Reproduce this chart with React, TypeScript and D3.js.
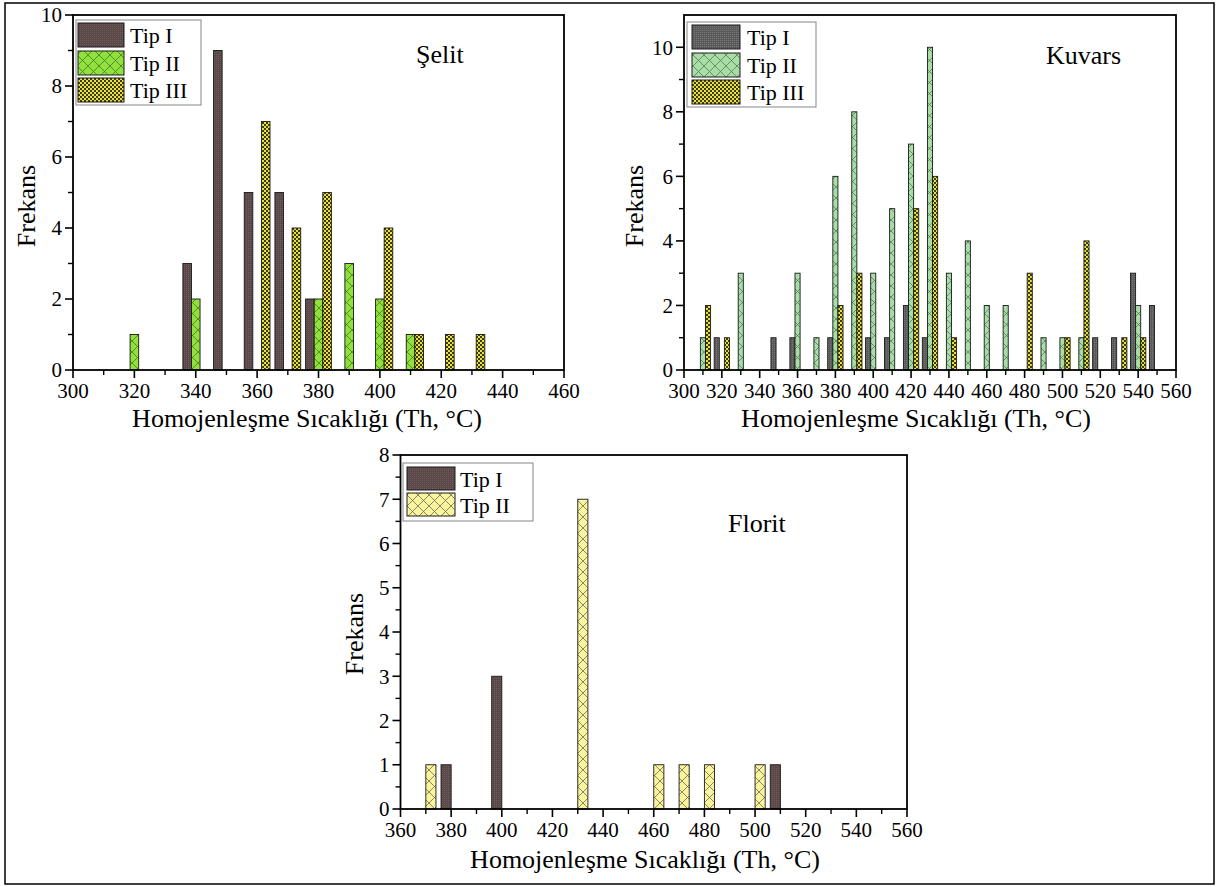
import React from "react";
import * as d3 from "d3";

const FONT = "'Liberation Serif', 'Times New Roman', serif";

// Şelit - frekans per 10 °C sınıfı
const selitTipI = [
  { t: 340, n: 3 }, { t: 350, n: 9 }, { t: 360, n: 5 }, { t: 370, n: 5 }, { t: 380, n: 2 },
];
const selitTipII = [
  { t: 320, n: 1 }, { t: 340, n: 2 }, { t: 380, n: 2 }, { t: 390, n: 3 }, { t: 400, n: 2 }, { t: 410, n: 1 },
];
const selitTipIII = [
  { t: 360, n: 7 }, { t: 370, n: 4 }, { t: 380, n: 5 }, { t: 400, n: 4 }, { t: 410, n: 1 }, { t: 420, n: 1 }, { t: 430, n: 1 },
];

// Kuvars
const kuvarsTipI = [
  { t: 320, n: 1 }, { t: 350, n: 1 }, { t: 360, n: 1 }, { t: 380, n: 1 }, { t: 400, n: 1 }, { t: 410, n: 1 },
  { t: 420, n: 2 }, { t: 430, n: 1 }, { t: 520, n: 1 }, { t: 530, n: 1 }, { t: 540, n: 3 }, { t: 550, n: 2 },
];
const kuvarsTipII = [
  { t: 310, n: 1 }, { t: 330, n: 3 }, { t: 360, n: 3 }, { t: 370, n: 1 }, { t: 380, n: 6 }, { t: 390, n: 8 },
  { t: 400, n: 3 }, { t: 410, n: 5 }, { t: 420, n: 7 }, { t: 430, n: 10 }, { t: 440, n: 3 }, { t: 450, n: 4 },
  { t: 460, n: 2 }, { t: 470, n: 2 }, { t: 490, n: 1 }, { t: 500, n: 1 }, { t: 510, n: 1 }, { t: 540, n: 2 },
];
const kuvarsTipIII = [
  { t: 310, n: 2 }, { t: 320, n: 1 }, { t: 380, n: 2 }, { t: 390, n: 3 }, { t: 420, n: 5 }, { t: 430, n: 6 },
  { t: 440, n: 1 }, { t: 480, n: 3 }, { t: 500, n: 1 }, { t: 510, n: 4 }, { t: 530, n: 1 }, { t: 540, n: 1 },
];

// Florit
const floritTipI = [{ t: 380, n: 1 }, { t: 400, n: 3 }, { t: 510, n: 1 }];
const floritTipII = [
  { t: 370, n: 1 }, { t: 430, n: 7 }, { t: 460, n: 1 }, { t: 470, n: 1 }, { t: 480, n: 1 }, { t: 500, n: 1 },
];

// eksen etiketleri
const selitXTicks = [300, 320, 340, 360, 380, 400, 420, 440, 460];
const kuvarsXTicks = [300, 320, 340, 360, 380, 400, 420, 440, 460, 480, 500, 520, 540, 560];
const floritXTicks = [360, 380, 400, 420, 440, 460, 480, 500, 520, 540, 560];
const selitYTicks = [0, 2, 4, 6, 8, 10];
const kuvarsYTicks = [0, 2, 4, 6, 8, 10];
const floritYTicks = [0, 1, 2, 3, 4, 5, 6, 7, 8];

const seriesNames = ["Tip I", "Tip II", "Tip III"];
const xTitle = "Homojenleşme Sıcaklığı (Th, °C)";
const yTitle = "Frekans";

type Bin = { t: number; n: number };
type Fill = { kind: "dots" | "cross" | "checker"; base: string; ink: string };
type Series = { name: string; data: Bin[]; fill: Fill };

const brown: Fill = { kind: "dots", base: "#5a4747", ink: "#705e5e" };
const grey: Fill = { kind: "dots", base: "#5a5a5a", ink: "#787878" };
const olive: Fill = { kind: "checker", base: "#e9e23c", ink: "#3e3b1c" };

function PatternDef({ id, fill }: { id: string; fill: Fill }) {
  if (fill.kind === "cross") {
    return (
      <pattern id={id} width={11} height={11} patternUnits="userSpaceOnUse">
        <rect width={11} height={11} fill={fill.base} />
        <path d="M0,0L11,11M11,0L0,11" stroke={fill.ink} strokeWidth={0.8} />
      </pattern>
    );
  }
  if (fill.kind === "checker") {
    return (
      <pattern id={id} width={4} height={4} patternUnits="userSpaceOnUse">
        <rect width={4} height={4} fill={fill.base} />
        <rect width={2} height={2} fill={fill.ink} />
        <rect x={2} y={2} width={2} height={2} fill={fill.ink} />
      </pattern>
    );
  }
  return (
    <pattern id={id} width={2} height={2} patternUnits="userSpaceOnUse">
      <rect width={2} height={2} fill={fill.base} />
      <rect width={1} height={1} fill={fill.ink} />
    </pattern>
  );
}

type PanelProps = {
  id: string;
  left: number; right: number; top: number; bottom: number;
  xDomain: [number, number]; yMax: number;
  xTicks: number[]; xMinor: number[]; yTicks: number[]; yMinor: number[];
  series: Series[]; barW: number;
  title: string; titleX: number; titleY: number;
  legend: { x0: number; y0: number; x1: number; y1: number; sx: number; sw: number; sh: number; rows: number[]; tx: number };
  yTitleX: number; yTitleY: number; xTitleX: number; xTitleY: number;
};

function Panel(p: PanelProps) {
  const x = d3.scaleLinear().domain(p.xDomain).range([p.left, p.right]);
  const y = d3.scaleLinear().domain([0, p.yMax]).range([p.bottom, p.top]);
  const k = p.series.length;
  const lg = p.legend;

  return (
    <g>
      <defs>
        {p.series.map((s, i) => (
          <PatternDef key={i} id={`${p.id}-${i}`} fill={s.fill} />
        ))}
      </defs>

      {/* staafjes, gegroepeerd rond de klassewaarde */}
      {p.series.map((s, i) => {
        const off = (i - (k - 1) / 2) * p.barW;
        return s.data.map((d) => {
          const x0 = x(d.t + off - p.barW / 2);
          const x1 = x(d.t + off + p.barW / 2);
          return (
            <rect key={`${i}-${d.t}`} x={x0} y={y(d.n)} width={x1 - x0} height={y(0) - y(d.n)}
              fill={`url(#${p.id}-${i})`} stroke="#1a1a1a" strokeWidth={0.9} />
          );
        });
      })}

      {/* kader */}
      <rect x={p.left} y={p.top} width={p.right - p.left} height={p.bottom - p.top}
        fill="none" stroke="#000" strokeWidth={1.8} />

      {/* x-as */}
      {p.xTicks.map((v) => (
        <g key={`xt${v}`}>
          <line x1={x(v)} x2={x(v)} y1={p.bottom} y2={p.bottom + 8} stroke="#000" strokeWidth={1.6} />
          <text x={x(v)} y={p.bottom + 28} textAnchor="middle" fontSize={21} fontFamily={FONT}>{v}</text>
        </g>
      ))}
      {p.xMinor.map((v) => (
        <line key={`xm${v}`} x1={x(v)} x2={x(v)} y1={p.bottom} y2={p.bottom + 5} stroke="#000" strokeWidth={1.4} />
      ))}

      {/* y-as */}
      {p.yTicks.map((v) => (
        <g key={`yt${v}`}>
          <line x1={p.left - 8} x2={p.left} y1={y(v)} y2={y(v)} stroke="#000" strokeWidth={1.6} />
          <text x={p.left - 11} y={y(v)} dy="0.35em" textAnchor="end" fontSize={21} fontFamily={FONT}>{v}</text>
        </g>
      ))}
      {p.yMinor.map((v) => (
        <line key={`ym${v}`} x1={p.left - 5} x2={p.left} y1={y(v)} y2={y(v)} stroke="#000" strokeWidth={1.4} />
      ))}

      <text x={p.xTitleX} y={p.xTitleY} textAnchor="middle" fontSize={26} fontFamily={FONT}>{xTitle}</text>
      <text transform={`translate(${p.yTitleX},${p.yTitleY}) rotate(-90)`} textAnchor="middle" fontSize={26} fontFamily={FONT}>{yTitle}</text>
      <text x={p.titleX} y={p.titleY} fontSize={26} fontFamily={FONT}>{p.title}</text>

      {/* legende */}
      <rect x={lg.x0} y={lg.y0} width={lg.x1 - lg.x0} height={lg.y1 - lg.y0} fill="#fff" stroke="#9a9a9a" strokeWidth={1.2} />
      {p.series.map((s, i) => (
        <g key={`lg${i}`}>
          <rect x={lg.sx} y={lg.rows[i]} width={lg.sw} height={lg.sh} fill={`url(#${p.id}-${i})`} stroke="#1a1a1a" strokeWidth={1} />
          <text x={lg.tx} y={lg.rows[i] + lg.sh / 2 + 8} fontSize={22} fontFamily={FONT}>{s.name}</text>
        </g>
      ))}
    </g>
  );
}

export default function App() {
  const selitSeries: Series[] = [
    { name: seriesNames[0], data: selitTipI, fill: brown },
    { name: seriesNames[1], data: selitTipII, fill: { kind: "cross", base: "#8fe23b", ink: "#4a7526" } },
    { name: seriesNames[2], data: selitTipIII, fill: olive },
  ];
  const kuvarsSeries: Series[] = [
    { name: seriesNames[0], data: kuvarsTipI, fill: grey },
    { name: seriesNames[1], data: kuvarsTipII, fill: { kind: "cross", base: "#a6dea6", ink: "#5a7a5a" } },
    { name: seriesNames[2], data: kuvarsTipIII, fill: olive },
  ];
  const floritSeries: Series[] = [
    { name: seriesNames[0], data: floritTipI, fill: brown },
    { name: seriesNames[1], data: floritTipII, fill: { kind: "cross", base: "#faf49c", ink: "#6b6a55" } },
  ];

  return (
    <svg width={1218} height={887} style={{ position: "absolute", left: 0, top: 0, background: "#fff" }}>
      <rect x={0} y={0} width={1218} height={887} fill="#fff" />
      <rect x={5} y={3} width={1209} height={881} fill="none" stroke="#000" strokeWidth={1.5} />

      <Panel id="selit" left={73} right={564} top={15} bottom={370}
        xDomain={[300, 460]} yMax={10}
        xTicks={selitXTicks} xMinor={d3.range(310, 460, 20)}
        yTicks={selitYTicks} yMinor={[1, 3, 5, 7, 9]}
        series={selitSeries} barW={2.8}
        title="Şelit" titleX={416} titleY={63}
        legend={{ x0: 76, y0: 20, x1: 201, y1: 105, sx: 78, sw: 46, sh: 24, rows: [23, 51, 78], tx: 130 }}
        yTitleX={35} yTitleY={206} xTitleX={307} xTitleY={427} />

      <Panel id="kuvars" left={684} right={1176} top={15} bottom={370}
        xDomain={[300, 560]} yMax={11}
        xTicks={kuvarsXTicks} xMinor={d3.range(310, 560, 20)}
        yTicks={kuvarsYTicks} yMinor={[1, 3, 5, 7, 9]}
        series={kuvarsSeries} barW={2.7}
        title="Kuvars" titleX={1046} titleY={64}
        legend={{ x0: 687, y0: 22, x1: 816, y1: 107, sx: 692, sw: 48, sh: 24, rows: [25, 53, 80], tx: 747 }}
        yTitleX={643} yTitleY={206} xTitleX={916} xTitleY={427} />

      <Panel id="florit" left={400.5} right={907} top={455} bottom={809}
        xDomain={[360, 560]} yMax={8}
        xTicks={floritXTicks} xMinor={d3.range(370, 560, 20)}
        yTicks={floritYTicks} yMinor={d3.range(0.5, 8, 1)}
        series={floritSeries} barW={4}
        title="Florit" titleX={728} titleY={532}
        legend={{ x0: 403, y0: 463, x1: 533, y1: 521, sx: 407, sw: 48, sh: 23, rows: [467, 493], tx: 460 }}
        yTitleX={363} yTitleY={634} xTitleX={645} xTitleY={868} />
    </svg>
  );
}
